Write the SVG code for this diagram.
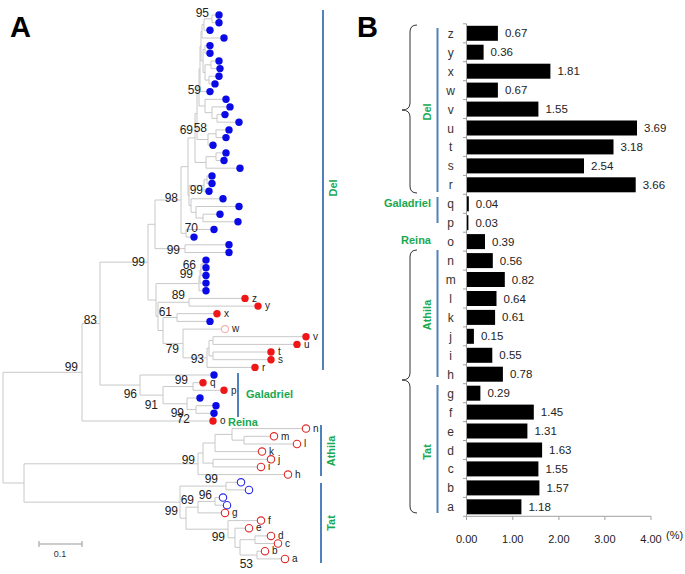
<svg xmlns="http://www.w3.org/2000/svg" width="685" height="574" viewBox="0 0 685 574">
<style>
.br{fill:none;stroke:#c8c8c8;stroke-width:1}
.bf{fill:#0a0ae6}
.rf{fill:#ee1616}
.ro{fill:#fff;stroke:#e02a2a;stroke-width:1.1}
.bo{fill:#fff;stroke:#2a2ae6;stroke-width:1.1}
.po{fill:#fff;stroke:#f2b4b4;stroke-width:1.1}
.bs{font-family:"Liberation Sans",Arial,sans-serif;font-size:12px;fill:#222;text-anchor:end}
.lf{font-family:"Liberation Sans",Arial,sans-serif;font-size:10px;fill:#222}
.gr{font-family:"Liberation Sans",Arial,sans-serif;font-size:11px;font-weight:bold;fill:#1aa851}
.cb{stroke:#4f81bd;stroke-width:2;fill:none}
.pl{font-family:"Liberation Sans",Arial,sans-serif;font-size:29px;font-weight:bold;fill:#000}
.bar{fill:#000}
.cat{font-family:"Liberation Sans",Arial,sans-serif;font-size:12px;fill:#333;text-anchor:middle}
.val{font-family:"Liberation Sans",Arial,sans-serif;font-size:11.5px;fill:#222}
.ax{stroke:#a0a0a0;stroke-width:1;fill:none}
.tk{font-family:"Liberation Sans",Arial,sans-serif;font-size:11px;fill:#222;text-anchor:middle}
.brace{stroke:#333;stroke-width:1;fill:none}
</style>
<rect width="685" height="574" fill="#fff"/>
<text class="pl" x="10" y="37">A</text>
<text class="pl" x="357" y="37">B</text>

<g id="connectors">
<path class="br" d="M219 15 H212 V22.7 H219 M212 18.85 H204 V30.3 H210 M204 24.6 H202 V38 H224 M210 45.6 H205 V53.3 H210 M219 61 H211 V68.6 H220 M219 76.3 H209 V83.9 H215 M211 64.8 H205 V80.1 H209 M205 49.45 H203 V72.45 H205 M202 31.3 H201 V60.95 H203 M201 46.1 H200 V91.6 H210"/>
<path class="br" d="M225 114.6 H217 V122.2 H239 M230 106.9 H212 V118.4 H217 M226 99.3 H205 V112.65 H212 M200 68.85 H199 V105.98 H205 M229 129.9 H216 V137.6 H226 M216 133.75 H208 V145.2 H213 M199 87.4 H197 V139.5 H208 M226 152.9 H216 V160.5 H224 M216 156.7 H206 V168.2 H240 M197 113.45 H195 V162.45 H206"/>
<path class="br" d="M212 175.9 H207 V183.5 H212 M207 179.7 H204 V191.2 H209 M220 214.2 H203 V221.8 H238 M239 206.5 H196 V218 H203 M223 198.8 H191 V212.25 H196 M204 185.45 H189 V205.5 H191 M195 137.95 H188 V195.5 H189 M214 229.5 H186 V237.1 H194 M188 166.7 H181 V233.3 H186 M229 244.8 H185 V252.5 H229 M181 200 H155 V248.65 H185"/>
<path class="br" d="M206 260.1 H203 V267.8 H206 M203 263.95 H201 V275.4 H206 M201 269.7 H200 V283.1 H206 M200 276.4 H199 V290.8 H206 M245 298.4 H189 V306.1 H258 M217 313.7 H177 V321.4 H210 M306 336.7 H213 V344.4 H297 M271 352 H213 V359.7 H271 M213 340.55 H209 V355.85 H213 M209 348.2 H207 V367.4 H255 M225 329.1 H183 V357.8 H207 M177 317.55 H163 V343.45 H183 M189 302.25 H158 V330.5 H163 M199 283.6 H156 V316.4 H158 M155 224.3 H148 V300 H156"/>
<path class="br" d="M203 382.7 H193 V390.3 H224 M216 405.7 H196 V413.3 H214 M200 398 H187 V409.5 H196 M193 386.5 H163 V403.75 H187 M214 375 H140 V395.1 H163 M148 262.15 H100 V385.05 H140 M100 323.6 H82 V421 H213"/>
<path class="br" d="M274 436.3 H244 V444 H297 M306 428.6 H232 V440.15 H244 M232 434.4 H215 V451.6 H262 M271 459.3 H213 V466.9 H261 M215 443 H203 V463.1 H213 M203 453.05 H198 V474.6 H288"/>
<path class="br" d="M241 482.3 H226 V489.9 H249 M223 497.6 H215 V505.2 H227 M215 501.4 H198 V512.9 H225 M271 535.9 H255 V543.5 H278 M265 551.2 H257 V558.9 H285 M255 539.7 H240 V555.05 H257 M249 528.2 H235 V547.4 H240 M261 520.6 H228 V537.8 H235 M198 507.15 H186 V529.2 H228 M226 486.1 H180 V518.2 H186 M198 463.8 H24 V502.15 H180 M82 372.3 H3 V483 H24"/>
</g>

<g id="bootstrap">
<text class="bs" x="209" y="17">95</text>
<text class="bs" x="201" y="94">59</text>
<text class="bs" x="193" y="134">69</text>
<text class="bs" x="207" y="132">58</text>
<text class="bs" x="203" y="194">99</text>
<text class="bs" x="178" y="202">98</text>
<text class="bs" x="198" y="232">70</text>
<text class="bs" x="180" y="254">99</text>
<text class="bs" x="196" y="269">66</text>
<text class="bs" x="193" y="278">99</text>
<text class="bs" x="145" y="266">99</text>
<text class="bs" x="185" y="299">89</text>
<text class="bs" x="172" y="316">61</text>
<text class="bs" x="97" y="324">83</text>
<text class="bs" x="179" y="353">79</text>
<text class="bs" x="204" y="363">93</text>
<text class="bs" x="78" y="371">99</text>
<text class="bs" x="188" y="384">99</text>
<text class="bs" x="137" y="398">96</text>
<text class="bs" x="158" y="409">91</text>
<text class="bs" x="184" y="417">99</text>
<text class="bs" x="190" y="423">72</text>
<text class="bs" x="195" y="464">99</text>
<text class="bs" x="218" y="483">99</text>
<text class="bs" x="212" y="499">96</text>
<text class="bs" x="194" y="504">69</text>
<text class="bs" x="178" y="515">99</text>
<text class="bs" x="225" y="541">99</text>
<text class="bs" x="253" y="568">53</text>
</g>

<g id="leaf-1"><circle class="bf" cx="219" cy="15" r="3.7"/></g>
<g id="leaf-2"><circle class="bf" cx="219" cy="22.7" r="3.7"/></g>
<g id="leaf-3"><circle class="bf" cx="210" cy="30.3" r="3.7"/></g>
<g id="leaf-4"><circle class="bf" cx="224" cy="38" r="3.7"/></g>
<g id="leaf-5"><circle class="bf" cx="210" cy="45.6" r="3.7"/></g>
<g id="leaf-6"><circle class="bf" cx="210" cy="53.3" r="3.7"/></g>
<g id="leaf-7"><circle class="bf" cx="219" cy="61" r="3.7"/></g>
<g id="leaf-8"><circle class="bf" cx="220" cy="68.6" r="3.7"/></g>
<g id="leaf-9"><circle class="bf" cx="219" cy="76.3" r="3.7"/></g>
<g id="leaf-10"><circle class="bf" cx="215" cy="83.9" r="3.7"/></g>
<g id="leaf-11"><circle class="bf" cx="210" cy="91.6" r="3.7"/></g>
<g id="leaf-12"><circle class="bf" cx="226" cy="99.3" r="3.7"/></g>
<g id="leaf-13"><circle class="bf" cx="230" cy="106.9" r="3.7"/></g>
<g id="leaf-14"><circle class="bf" cx="225" cy="114.6" r="3.7"/></g>
<g id="leaf-15"><circle class="bf" cx="239" cy="122.2" r="3.7"/></g>
<g id="leaf-16"><circle class="bf" cx="229" cy="129.9" r="3.7"/></g>
<g id="leaf-17"><circle class="bf" cx="226" cy="137.6" r="3.7"/></g>
<g id="leaf-18"><circle class="bf" cx="213" cy="145.2" r="3.7"/></g>
<g id="leaf-19"><circle class="bf" cx="226" cy="152.9" r="3.7"/></g>
<g id="leaf-20"><circle class="bf" cx="224" cy="160.5" r="3.7"/></g>
<g id="leaf-21"><circle class="bf" cx="240" cy="168.2" r="3.7"/></g>
<g id="leaf-22"><circle class="bf" cx="212" cy="175.9" r="3.7"/></g>
<g id="leaf-23"><circle class="bf" cx="212" cy="183.5" r="3.7"/></g>
<g id="leaf-24"><circle class="bf" cx="209" cy="191.2" r="3.7"/></g>
<g id="leaf-25"><circle class="bf" cx="223" cy="198.8" r="3.7"/></g>
<g id="leaf-26"><circle class="bf" cx="239" cy="206.5" r="3.7"/></g>
<g id="leaf-27"><circle class="bf" cx="220" cy="214.2" r="3.7"/></g>
<g id="leaf-28"><circle class="bf" cx="238" cy="221.8" r="3.7"/></g>
<g id="leaf-29"><circle class="bf" cx="214" cy="229.5" r="3.7"/></g>
<g id="leaf-30"><circle class="bf" cx="194" cy="237.1" r="3.7"/></g>
<g id="leaf-31"><circle class="bf" cx="229" cy="244.8" r="3.7"/></g>
<g id="leaf-32"><circle class="bf" cx="229" cy="252.5" r="3.7"/></g>
<g id="leaf-33"><circle class="bf" cx="206" cy="260.1" r="3.7"/></g>
<g id="leaf-34"><circle class="bf" cx="206" cy="267.8" r="3.7"/></g>
<g id="leaf-35"><circle class="bf" cx="206" cy="275.4" r="3.7"/></g>
<g id="leaf-36"><circle class="bf" cx="206" cy="283.1" r="3.7"/></g>
<g id="leaf-37"><circle class="bf" cx="206" cy="290.8" r="3.7"/></g>
<g id="leaf-z"><circle class="rf" cx="245" cy="298.4" r="3.7"/><text class="lf" x="252" y="301.6">z</text></g>
<g id="leaf-y"><circle class="rf" cx="258" cy="306.1" r="3.7"/><text class="lf" x="265" y="309.3">y</text></g>
<g id="leaf-x"><circle class="rf" cx="217" cy="313.7" r="3.7"/><text class="lf" x="224" y="316.9">x</text></g>
<g id="leaf-41"><circle class="bf" cx="210" cy="321.4" r="3.7"/></g>
<g id="leaf-w"><circle class="po" cx="225" cy="329.1" r="3.5"/><text class="lf" x="232" y="332.3">w</text></g>
<g id="leaf-v"><circle class="rf" cx="306" cy="336.7" r="3.7"/><text class="lf" x="313" y="339.9">v</text></g>
<g id="leaf-u"><circle class="rf" cx="297" cy="344.4" r="3.7"/><text class="lf" x="304" y="347.6">u</text></g>
<g id="leaf-t"><circle class="rf" cx="271" cy="352" r="3.7"/><text class="lf" x="278" y="355.2">t</text></g>
<g id="leaf-s"><circle class="rf" cx="271" cy="359.7" r="3.7"/><text class="lf" x="278" y="362.9">s</text></g>
<g id="leaf-r"><circle class="rf" cx="255" cy="367.4" r="3.7"/><text class="lf" x="262" y="370.6">r</text></g>
<g id="leaf-48"><circle class="bf" cx="214" cy="375" r="3.7"/></g>
<g id="leaf-q"><circle class="rf" cx="203" cy="382.7" r="3.7"/><text class="lf" x="210" y="385.9">q</text></g>
<g id="leaf-p"><circle class="rf" cx="224" cy="390.3" r="3.7"/><text class="lf" x="231" y="393.5">p</text></g>
<g id="leaf-51"><circle class="bf" cx="200" cy="398" r="3.7"/></g>
<g id="leaf-52"><circle class="bf" cx="216" cy="405.7" r="3.7"/></g>
<g id="leaf-53"><circle class="bf" cx="214" cy="413.3" r="3.7"/></g>
<g id="leaf-o"><circle class="rf" cx="213" cy="421" r="3.7"/><text class="lf" x="220" y="424.2">o</text></g>
<g id="leaf-n"><circle class="ro" cx="306" cy="428.6" r="3.7"/><text class="lf" x="313" y="431.8">n</text></g>
<g id="leaf-m"><circle class="ro" cx="274" cy="436.3" r="3.7"/><text class="lf" x="281" y="439.5">m</text></g>
<g id="leaf-l"><circle class="ro" cx="297" cy="444" r="3.7"/><text class="lf" x="304" y="447.2">l</text></g>
<g id="leaf-k"><circle class="ro" cx="262" cy="451.6" r="3.7"/><text class="lf" x="269" y="454.8">k</text></g>
<g id="leaf-j"><circle class="ro" cx="271" cy="459.3" r="3.7"/><text class="lf" x="278" y="462.5">j</text></g>
<g id="leaf-i"><circle class="ro" cx="261" cy="466.9" r="3.7"/><text class="lf" x="268" y="470.1">i</text></g>
<g id="leaf-h"><circle class="ro" cx="288" cy="474.6" r="3.7"/><text class="lf" x="295" y="477.8">h</text></g>
<g id="leaf-62"><circle class="bo" cx="241" cy="482.3" r="3.7"/></g>
<g id="leaf-63"><circle class="bo" cx="249" cy="489.9" r="3.7"/></g>
<g id="leaf-64"><circle class="bo" cx="223" cy="497.6" r="3.7"/></g>
<g id="leaf-65"><circle class="bo" cx="227" cy="505.2" r="3.7"/></g>
<g id="leaf-g"><circle class="ro" cx="225" cy="512.9" r="3.7"/><text class="lf" x="232" y="516.1">g</text></g>
<g id="leaf-f"><circle class="ro" cx="261" cy="520.6" r="3.7"/><text class="lf" x="268" y="523.8">f</text></g>
<g id="leaf-e"><circle class="ro" cx="249" cy="528.2" r="3.7"/><text class="lf" x="256" y="531.4">e</text></g>
<g id="leaf-d"><circle class="ro" cx="271" cy="535.9" r="3.7"/><text class="lf" x="278" y="539.1">d</text></g>
<g id="leaf-c"><circle class="ro" cx="278" cy="543.5" r="3.7"/><text class="lf" x="285" y="546.7">c</text></g>
<g id="leaf-b"><circle class="ro" cx="265" cy="551.2" r="3.7"/><text class="lf" x="272" y="554.4">b</text></g>
<g id="leaf-a"><circle class="ro" cx="285" cy="558.9" r="3.7"/><text class="lf" x="292" y="562.1">a</text></g>

<g id="clades-A">
<line class="cb" x1="323" y1="10" x2="323" y2="370"/>
<text class="gr" transform="translate(337 188) rotate(-90)" text-anchor="middle">Del</text>
<line class="cb" x1="238" y1="373" x2="238" y2="417"/>
<text class="gr" x="246" y="398">Galadriel</text>
<text class="gr" x="228" y="426">Reina</text>
<line class="cb" x1="321" y1="425" x2="321" y2="476"/>
<text class="gr" transform="translate(335 451) rotate(-90)" text-anchor="middle">Athila</text>
<line class="cb" x1="321" y1="483" x2="321" y2="563"/>
<text class="gr" transform="translate(335 523) rotate(-90)" text-anchor="middle">Tat</text>
</g>

<g id="scale-bar">
<path d="M39 544 H82 M39 541 V547 M82 541 V547" stroke="#999" stroke-width="1" fill="none"/>
<text x="60" y="557" font-family="Liberation Sans, Arial, sans-serif" font-size="9" fill="#333" text-anchor="middle">0.1</text>
</g>

<g id="axes-B">
<path class="ax" d="M466.5 23.8 V516.3 H651"/>
<path class="ax" d="M463 23.8 H466.5 M463 42.8 H466.5 M463 61.7 H466.5 M463 80.7 H466.5 M463 99.6 H466.5 M463 118.5 H466.5 M463 137.5 H466.5 M463 156.4 H466.5 M463 175.4 H466.5 M463 194.3 H466.5 M463 213.3 H466.5 M463 232.2 H466.5 M463 251.1 H466.5 M463 270.1 H466.5 M463 289 H466.5 M463 308 H466.5 M463 326.9 H466.5 M463 345.8 H466.5 M463 364.8 H466.5 M463 383.7 H466.5 M463 402.7 H466.5 M463 421.6 H466.5 M463 440.5 H466.5 M463 459.5 H466.5 M463 478.4 H466.5 M463 497.4 H466.5 M463 516.3 H466.5"/>
<path class="ax" d="M466.5 516.3 V520 M512.8 516.3 V520 M558.9 516.3 V520 M604.9 516.3 V520 M651 516.3 V520"/>
<text class="tk" x="466.7" y="543">0.00</text>
<text class="tk" x="512.8" y="543">1.00</text>
<text class="tk" x="558.9" y="543">2.00</text>
<text class="tk" x="604.9" y="543">3.00</text>
<text class="tk" x="651" y="543">4.00</text>
<text x="666" y="539" font-family="Liberation Sans, Arial, sans-serif" font-size="11" fill="#222">(%)</text>
</g>

<g id="row-z"><text class="cat" x="450.7" y="37.8">z</text><rect class="bar" x="467" y="25.8" width="30.9" height="15"/><text class="val" x="504.9" y="37.3">0.67</text></g>
<g id="row-y"><text class="cat" x="450.7" y="56.7">y</text><rect class="bar" x="467" y="44.7" width="16.6" height="15"/><text class="val" x="490.6" y="56.2">0.36</text></g>
<g id="row-x"><text class="cat" x="450.7" y="75.7">x</text><rect class="bar" x="467" y="63.7" width="83.4" height="15"/><text class="val" x="557.4" y="75.2">1.81</text></g>
<g id="row-w"><text class="cat" x="450.7" y="94.6">w</text><rect class="bar" x="467" y="82.6" width="30.9" height="15"/><text class="val" x="504.9" y="94.1">0.67</text></g>
<g id="row-v"><text class="cat" x="450.7" y="113.6">v</text><rect class="bar" x="467" y="101.6" width="71.4" height="15"/><text class="val" x="545.4" y="113.1">1.55</text></g>
<g id="row-u"><text class="cat" x="450.7" y="132.5">u</text><rect class="bar" x="467" y="120.5" width="170" height="15"/><text class="val" x="644" y="132">3.69</text></g>
<g id="row-t"><text class="cat" x="450.7" y="151.4">t</text><rect class="bar" x="467" y="139.4" width="146.5" height="15"/><text class="val" x="620.5" y="150.9">3.18</text></g>
<g id="row-s"><text class="cat" x="450.7" y="170.4">s</text><rect class="bar" x="467" y="158.4" width="117" height="15"/><text class="val" x="591" y="169.9">2.54</text></g>
<g id="row-r"><text class="cat" x="450.7" y="189.3">r</text><rect class="bar" x="467" y="177.3" width="168.7" height="15"/><text class="val" x="642.7" y="188.8">3.66</text></g>
<g id="row-q"><text class="cat" x="450.7" y="208.3">q</text><rect class="bar" x="467" y="196.3" width="1.8" height="15"/><text class="val" x="475.8" y="207.8">0.04</text></g>
<g id="row-p"><text class="cat" x="450.7" y="227.2">p</text><rect class="bar" x="467" y="215.2" width="1.4" height="15"/><text class="val" x="475.4" y="226.7">0.03</text></g>
<g id="row-o"><text class="cat" x="450.7" y="246.1">o</text><rect class="bar" x="467" y="234.1" width="18" height="15"/><text class="val" x="492" y="245.6">0.39</text></g>
<g id="row-n"><text class="cat" x="450.7" y="265.1">n</text><rect class="bar" x="467" y="253.1" width="25.8" height="15"/><text class="val" x="499.8" y="264.6">0.56</text></g>
<g id="row-m"><text class="cat" x="450.7" y="284">m</text><rect class="bar" x="467" y="272" width="37.8" height="15"/><text class="val" x="511.8" y="283.5">0.82</text></g>
<g id="row-l"><text class="cat" x="450.7" y="303">l</text><rect class="bar" x="467" y="291" width="29.5" height="15"/><text class="val" x="503.5" y="302.5">0.64</text></g>
<g id="row-k"><text class="cat" x="450.7" y="321.9">k</text><rect class="bar" x="467" y="309.9" width="28.1" height="15"/><text class="val" x="502.1" y="321.4">0.61</text></g>
<g id="row-j"><text class="cat" x="450.7" y="340.8">j</text><rect class="bar" x="467" y="328.8" width="6.9" height="15"/><text class="val" x="480.9" y="340.3">0.15</text></g>
<g id="row-i"><text class="cat" x="450.7" y="359.8">i</text><rect class="bar" x="467" y="347.8" width="25.3" height="15"/><text class="val" x="499.3" y="359.3">0.55</text></g>
<g id="row-h"><text class="cat" x="450.7" y="378.7">h</text><rect class="bar" x="467" y="366.7" width="35.9" height="15"/><text class="val" x="509.9" y="378.2">0.78</text></g>
<g id="row-g"><text class="cat" x="450.7" y="397.7">g</text><rect class="bar" x="467" y="385.7" width="13.4" height="15"/><text class="val" x="487.4" y="397.2">0.29</text></g>
<g id="row-f"><text class="cat" x="450.7" y="416.6">f</text><rect class="bar" x="467" y="404.6" width="66.8" height="15"/><text class="val" x="540.8" y="416.1">1.45</text></g>
<g id="row-e"><text class="cat" x="450.7" y="435.5">e</text><rect class="bar" x="467" y="423.5" width="60.4" height="15"/><text class="val" x="534.4" y="435">1.31</text></g>
<g id="row-d"><text class="cat" x="450.7" y="454.5">d</text><rect class="bar" x="467" y="442.5" width="75.1" height="15"/><text class="val" x="549.1" y="454">1.63</text></g>
<g id="row-c"><text class="cat" x="450.7" y="473.4">c</text><rect class="bar" x="467" y="461.4" width="71.4" height="15"/><text class="val" x="545.4" y="472.9">1.55</text></g>
<g id="row-b"><text class="cat" x="450.7" y="492.4">b</text><rect class="bar" x="467" y="480.4" width="72.4" height="15"/><text class="val" x="546.4" y="491.9">1.57</text></g>
<g id="row-a"><text class="cat" x="450.7" y="511.3">a</text><rect class="bar" x="467" y="499.3" width="54.4" height="15"/><text class="val" x="528.4" y="510.8">1.18</text></g>

<g id="groups-B">
<path class="brace" d="M417 25 Q410 25 410 32 V103 Q410 110 402 110 Q410 110 410 117 V186 Q410 193 417 193"/>
<path class="brace" d="M417 250 Q410 250 410 257 V373 Q410 380 402 380 Q410 380 410 387 V506 Q410 513 417 513"/>
<line class="cb" x1="437.5" y1="28" x2="437.5" y2="192"/>
<line class="cb" x1="437.5" y1="197" x2="437.5" y2="223"/>
<line class="cb" x1="437.5" y1="250" x2="437.5" y2="377"/>
<line class="cb" x1="437.5" y1="385" x2="437.5" y2="513"/>
<text class="gr" transform="translate(431 112) rotate(-90)" text-anchor="middle">Del</text>
<text class="gr" x="431" y="207" text-anchor="end">Galadriel</text>
<text class="gr" x="431" y="244" text-anchor="end">Reina</text>
<text class="gr" transform="translate(431 315) rotate(-90)" text-anchor="middle">Athila</text>
<text class="gr" transform="translate(431 452) rotate(-90)" text-anchor="middle">Tat</text>
</g>
</svg>
